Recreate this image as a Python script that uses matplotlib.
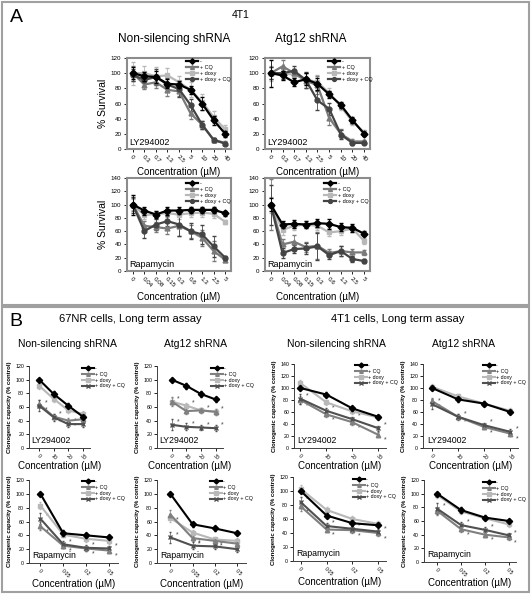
import matplotlib
matplotlib.use('Agg')
import matplotlib.pyplot as plt
from matplotlib.patches import Rectangle

plt.rcParams['font.family'] = ['Liberation Sans', 'DejaVu Sans']

W, H = 531, 594

labels = ['-', '+ CQ', '+ doxy', '+ doxy + CQ']

# ---- panel A: 4T1 short term survival ----
ly_conc = ['0', '0.3', '0.7', '1.3', '2.5', '5', '10', '20', '40']
rapa_conc = ['0', '0.04', '0.08', '0.15', '0.3', '0.6', '1.3', '2.5', '5']

# series order: ctrl, +CQ, +doxy, +doxy+CQ
ns_ly = [[100, 96, 95, 86, 85, 78, 60, 38, 20],
         [100, 85, 88, 78, 76, 47, 32, 12, 8],
         [100, 100, 96, 97, 88, 78, 62, 42, 26],
         [98, 91, 95, 85, 79, 58, 32, 12, 7]]
ns_ly_err = [[8, 6, 8, 6, 5, 5, 8, 6, 4],
             [10, 6, 8, 8, 6, 8, 5, 3, 2],
             [15, 10, 12, 10, 8, 10, 10, 8, 5],
             [8, 8, 10, 8, 10, 8, 5, 3, 2]]

atg_ly = [[100, 97, 88, 92, 86, 72, 58, 38, 20],
          [100, 109, 100, 90, 84, 41, 20, 10, 10],
          [100, 100, 98, 92, 88, 74, 56, 36, 22],
          [100, 100, 103, 91, 64, 53, 19, 8, 8]]
atg_ly_err = [[18, 6, 5, 8, 8, 5, 4, 4, 3],
              [8, 8, 6, 10, 12, 10, 6, 3, 2],
              [10, 6, 8, 8, 10, 6, 5, 4, 3],
              [8, 8, 6, 10, 12, 8, 6, 3, 2]]

ns_rapa = [[100, 91, 85, 91, 91, 92, 92, 92, 87],
           [100, 68, 66, 64, 68, 60, 50, 30, 17],
           [100, 84, 86, 87, 85, 87, 88, 86, 74],
           [100, 60, 70, 75, 70, 60, 55, 37, 20]]
ns_rapa_err = [[15, 6, 5, 6, 5, 4, 5, 5, 4],
               [10, 8, 8, 8, 15, 10, 12, 15, 3],
               [8, 6, 5, 6, 6, 6, 6, 6, 3],
               [12, 10, 8, 8, 18, 12, 14, 16, 3]]

atg_rapa = [[100, 70, 71, 70, 72, 71, 66, 65, 56],
            [100, 40, 44, 36, 38, 27, 30, 28, 28],
            [100, 62, 68, 70, 68, 58, 60, 64, 45],
            [100, 27, 33, 34, 37, 24, 30, 18, 15]]
atg_rapa_err = [[10, 6, 6, 5, 6, 8, 6, 6, 4],
                [38, 8, 10, 8, 20, 6, 8, 5, 4],
                [12, 8, 6, 5, 6, 6, 6, 6, 5],
                [30, 8, 6, 8, 20, 6, 8, 5, 3]]

# ---- panel B: long term clonogenic assay ----
b_ly_conc = ['0', '10', '20', '30']
b_rapa_conc = ['0', '0.05', '0.2', '0.5']

nr_ns_ly = [[100, 79, 62, 46], [64, 46, 40, 42], [91, 72, 55, 50], [62, 45, 35, 35]]
nr_atg_ly = [[100, 91, 79, 71], [68, 54, 55, 53], [68, 62, 55, 53], [34, 31, 30, 29]]
nr_ns_rapa = [[100, 43, 40, 37], [53, 25, 21, 18], [83, 41, 35, 32], [64, 27, 22, 21]]
nr_atg_rapa = [[100, 56, 50, 43], [70, 36, 32, 28], [65, 44, 34, 32], [37, 25, 24, 20]]
t1_ns_ly = [[100, 89, 66, 52], [80, 56, 43, 22], [108, 76, 61, 51], [82, 62, 48, 33]]
t1_atg_ly = [[100, 81, 74, 60], [78, 52, 35, 24], [102, 86, 74, 62], [73, 52, 38, 27]]
t1_ns_rapa = [[100, 65, 54, 51], [78, 45, 44, 40], [103, 73, 60, 53], [84, 50, 46, 42]]
t1_atg_rapa = [[100, 76, 65, 60], [75, 48, 40, 36], [98, 74, 64, 55], [78, 54, 47, 39]]

b_err = [[3, 4, 4, 3], [6, 4, 4, 4], [5, 4, 4, 4], [8, 5, 4, 4]]

# significance stars: (series, point)
stars_pairs = [(1, 0), (3, 0), (1, 1), (3, 1), (1, 2), (3, 2), (1, 3), (3, 3)]
stars_nr_ns_ly = stars_pairs[:6]
stars_nr_atg_ly = [(2, 0), (2, 1), (2, 2), (2, 3), (3, 0), (3, 1), (3, 2), (3, 3)]

a_colors = ['#000000', '#7a7a7a', '#b8b8b8', '#444444']
a_markers = ['D', '^', 's', 'o']
b_colors = ['#000000', '#808080', '#b8b8b8', '#505050']
b_markers = ['D', '^', 's', 'x']

fig = plt.figure(figsize=(W / 100, H / 100), dpi=100)


def px_axes(l, t, r, b):
    return fig.add_axes([l / W, 1 - b / H, (r - l) / W, (b - t) / H])


def put_legend(ax, handles, lx, ty, fs):
    ax.legend(handles, labels, loc='upper left', bbox_to_anchor=(lx / W, 1 - ty / H),
              bbox_transform=fig.transFigure, fontsize=fs, frameon=False,
              handlelength=2.2, handletextpad=0.3, labelspacing=0.15,
              borderpad=0, borderaxespad=0, markerscale=0.8)


def panel_a(box, data, err, xt, ymax, drug, leg, ylab):
    ax = px_axes(*box)
    x = list(range(len(xt)))
    handles = []
    for k in [2, 1, 3, 0]:
        c = ax.errorbar(x, data[k], yerr=err[k], color=a_colors[k], marker=a_markers[k],
                        ms=3.5, lw=1.6, elinewidth=0.6, capsize=1.2, zorder=3 + (k == 0))
        handles.append((k, c[0]))
    handles = [h for _, h in sorted(handles, key=lambda t: t[0])]
    ax.set_xlim(-0.5, len(xt) - 0.5)
    ax.set_ylim(0, ymax)
    ax.set_yticks(range(0, ymax + 1, 20))
    ax.set_xticks(x)
    ax.set_xticklabels(xt, rotation=-45, ha='left', va='top', rotation_mode='anchor')
    ax.tick_params(labelsize=4.5, length=2, width=0.6, pad=2)
    for s in ax.spines.values():
        s.set_color('#8c8c8c')
        s.set_linewidth(1.5)
    ax.set_xlabel('Concentration (µM)', fontsize=7, labelpad=2)
    if ylab:
        ax.set_ylabel('% Survival', fontsize=7.5, labelpad=2)
    ax.text(0.02, 0.04, drug, transform=ax.transAxes, fontsize=6.5)
    put_legend(ax, handles, leg[0], leg[1], 4)


def panel_b(box, xlim, data, xt, ymax, drug, leg, stars):
    ax = px_axes(*box)
    x = list(range(len(xt)))
    handles = []
    for k in [2, 1, 3, 0]:
        c = ax.errorbar(x, data[k], yerr=b_err[k], color=b_colors[k], marker=b_markers[k],
                        ms=3.2, mew=1, lw=1.5, elinewidth=0.5, capsize=1, zorder=3 + (k == 0))
        handles.append((k, c[0]))
    handles = [h for _, h in sorted(handles, key=lambda t: t[0])]
    for s, i in stars:
        dy = -5 if s == 1 else 1
        ax.annotate('*', (i, data[s][i]), xytext=(4, dy), textcoords='offset points',
                    fontsize=5, color='#444444')
    ax.set_xlim(*xlim)
    ax.set_ylim(0, ymax)
    ax.set_yticks(range(0, ymax + 1, 20))
    ax.set_xticks(x)
    ax.set_xticklabels(xt, rotation=-45, ha='left', va='top', rotation_mode='anchor')
    ax.tick_params(labelsize=3.8, length=2, width=0.6, pad=1.5)
    ax.spines['top'].set_visible(False)
    ax.spines['right'].set_visible(False)
    for s in ['left', 'bottom']:
        ax.spines[s].set_linewidth(0.7)
        ax.spines[s].set_color('#404040')
    ax.set_xlabel('Concentration (µM)', fontsize=7, labelpad=0)
    ax.set_ylabel('Clonogenic capacity (% control)', fontsize=4.3, fontweight='bold', labelpad=2)
    ax.text(0.04, 0.06, drug, transform=ax.transAxes, fontsize=6.3)
    put_legend(ax, handles, leg[0], leg[1], 3.8)


# panel boxes
for (x0, y0, x1, y1) in [(2, 2, 529, 305), (2, 307, 529, 592)]:
    fig.patches.append(Rectangle((x0 / W, 1 - y1 / H), (x1 - x0) / W, (y1 - y0) / H,
                                 transform=fig.transFigure, fill=False,
                                 edgecolor='#a0a0a0', linewidth=1.5))

fig.text(10 / W, 1 - 17 / H, 'A', fontsize=14, va='center')
fig.text(241 / W, 1 - 15 / H, '4T1', fontsize=7.5, ha='center', va='center')
fig.text(174 / W, 1 - 39 / H, 'Non-silencing shRNA', fontsize=8.5, ha='center', va='center')
fig.text(311 / W, 1 - 39 / H, 'Atg12 shRNA', fontsize=8.5, ha='center', va='center')

panel_a((127, 58, 231, 149), ns_ly, ns_ly_err, ly_conc, 120, 'LY294002', (186, 59), True)
panel_a((265, 58, 370, 149), atg_ly, atg_ly_err, ly_conc, 120, 'LY294002', (328, 59), False)
panel_a((127, 178, 231, 271), ns_rapa, ns_rapa_err, rapa_conc, 140, 'Rapamycin', (186, 181), True)
panel_a((265, 178, 370, 271), atg_rapa, atg_rapa_err, rapa_conc, 140, 'Rapamycin', (324, 181), False)

fig.text(9 / W, 1 - 321 / H, 'B', fontsize=14, va='center')
fig.text(130 / W, 1 - 319 / H, '67NR cells, Long term assay', fontsize=8, ha='center', va='center')
fig.text(398 / W, 1 - 319 / H, '4T1 cells, Long term assay', fontsize=8, ha='center', va='center')
for cx, t in [(67, 'Non-silencing shRNA'), (195, 'Atg12 shRNA'),
              (336, 'Non-silencing shRNA'), (463, 'Atg12 shRNA')]:
    fig.text(cx / W, 1 - 344 / H, t, fontsize=7.5, ha='center', va='center')

panel_b((29, 366, 90, 448), (-0.7, 3.5), nr_ns_ly, b_ly_conc, 120, 'LY294002', (82, 366), stars_nr_ns_ly)
panel_b((157, 366, 223, 448), (-1.0, 3.5), nr_atg_ly, b_ly_conc, 120, 'LY294002', (211, 366), stars_nr_atg_ly)
panel_b((29, 480, 118, 563), (-0.5, 3.4), nr_ns_rapa, b_rapa_conc, 120, 'Rapamycin', (82, 479), stars_pairs)
panel_b((157, 480, 246, 563), (-0.6, 3.4), nr_atg_rapa, b_rapa_conc, 120, 'Rapamycin', (210, 479), stars_pairs[:6])
panel_b((294, 364, 386, 448), (-0.25, 3.3), t1_ns_ly, b_ly_conc, 140, 'LY294002', (355, 363), stars_pairs)
panel_b((423, 364, 518, 448), (-0.35, 3.3), t1_atg_ly, b_ly_conc, 140, 'LY294002', (483, 363), stars_pairs)
panel_b((293, 477, 386, 561), (-0.3, 3.3), t1_ns_rapa, b_rapa_conc, 120, 'Rapamycin', (353, 477), stars_pairs)
panel_b((424, 480, 516, 562), (-0.55, 3.3), t1_atg_rapa, b_rapa_conc, 120, 'Rapamycin', (483, 480), stars_pairs)

fig.savefig('out.png', dpi=100)
